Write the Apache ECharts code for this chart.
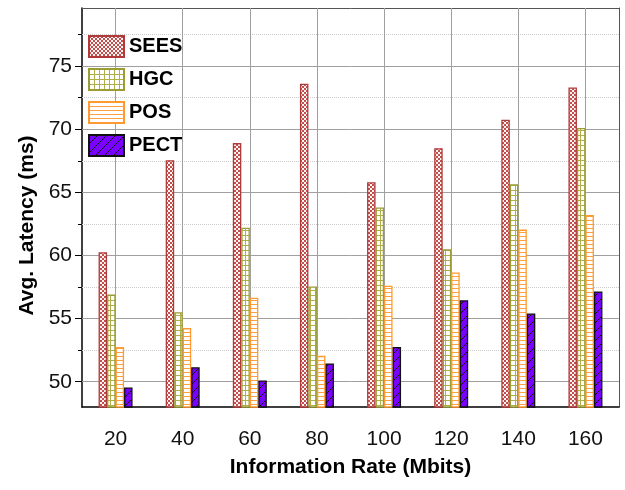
<!DOCTYPE html>
<html><head><meta charset="utf-8">
<script src="https://cdn.jsdelivr.net/npm/echarts@6/dist/echarts.min.js"></script>
<style>html,body{margin:0;padding:0;background:#fff}#c{width:625px;height:490px}</style>
</head><body><div id="c"></div>
<script>
var categories = ['20','40','60','80','100','120','140','160'];
var sees = [60.25, 67.55, 68.9, 73.6, 65.8, 68.5, 70.75, 73.3];
var hgc  = [56.9, 55.5, 62.2, 57.55, 63.8, 60.5, 65.65, 70.1];
var pos  = [52.75, 54.25, 56.65, 52.05, 57.6, 58.65, 62.05, 63.2];
var pect = [49.55, 51.15, 50.1, 51.45, 52.75, 56.45, 55.4, 57.15];
var yMajor = [50, 55, 60, 65, 70, 75];
var yMinor = [52.5, 57.5, 62.5, 67.5, 72.5, 77.5];
var yMin = 48, yMax = 79.6;

function pat(w, h, draw) {
  var c = document.createElement('canvas'); c.width = w; c.height = h;
  draw(c.getContext('2d'), w, h);
  return {image: c, repeat: 'repeat'};
}
var pSees = pat(4, 4, function (g) {
  g.fillStyle = '#fff4f4'; g.fillRect(0, 0, 4, 4);
  g.fillStyle = '#c0504d'; g.fillRect(0, 0, 2, 2); g.fillRect(2, 2, 2, 2);
});
var pHgc = pat(5, 5, function (g) {
  g.fillStyle = '#ffffff'; g.fillRect(0, 0, 5, 5);
  g.fillStyle = '#b0b04a'; g.fillRect(0, 0, 5, 1); g.fillRect(0, 0, 1, 5);
});
var pPos = pat(4, 4, function (g) {
  g.fillStyle = '#ffffff'; g.fillRect(0, 0, 4, 4);
  g.fillStyle = '#ffa040'; g.fillRect(0, 0, 4, 1);
});
var pPect = pat(9, 9, function (g) {
  g.fillStyle = '#7a00ff'; g.fillRect(0, 0, 9, 9);
  g.strokeStyle = '#111'; g.lineWidth = 1;
  g.beginPath(); g.moveTo(-1, 10); g.lineTo(10, -1); g.stroke();
});

var font = 'Liberation Sans, Arial, sans-serif';
function bar(name, data, color, border) {
  return {
    name: name, type: 'bar', data: data, barWidth: 8.5, barGap: '0%', z: 3,
    itemStyle: {color: color, borderColor: border, borderWidth: 1.3},
    animation: false
  };
}
var chart = echarts.init(document.getElementById('c'), null, {renderer: 'canvas'});
chart.setOption({
  backgroundColor: '#ffffff',
  animation: false,
  grid: {left: 82, right: 6, top: 8, bottom: 83},
  legend: {
    data: ['SEES', 'HGC', 'POS', 'PECT'], orient: 'vertical', left: 88, top: 35, padding: 0,
    itemWidth: 35, itemHeight: 21, itemGap: 10, icon: 'rect',
    textStyle: {fontFamily: font, fontWeight: 'bold', fontSize: 20, color: '#000'}
  },
  xAxis: [{
    type: 'category', data: categories,
    axisLine: {lineStyle: {color: '#000', width: 1.5}},
    axisTick: {alignWithLabel: true, inside: false, length: 6, lineStyle: {color: '#000'}},
    axisLabel: {fontFamily: font, fontSize: 21, color: '#111', margin: 22},
    splitLine: {show: false},
    name: 'Information Rate (Mbits)', nameLocation: 'middle', nameGap: 50,
    nameTextStyle: {fontFamily: font, fontSize: 21, fontWeight: 'bold', color: '#000'}
  }, {
    type: 'category', data: categories, position: 'top',
    axisLine: {show: true, lineStyle: {color: '#555', width: 1}},
    axisTick: {show: true, alignWithLabel: true, inside: true, length: 399, lineStyle: {color: '#a0a0a0', width: 1}},
    axisLabel: {show: false}, splitLine: {show: false}
  }],
  yAxis: [{
    type: 'value', min: yMin, max: yMax,
    axisLine: {show: true, lineStyle: {color: '#000', width: 1.5}},
    axisTick: {show: true, length: 7, customValues: yMajor, lineStyle: {color: '#000'}},
    axisLabel: {fontFamily: font, fontSize: 21, color: '#111', margin: 10, customValues: yMajor},
    splitLine: {show: false},
    name: 'Avg. Latency (ms)', nameLocation: 'middle', nameGap: 42,
    nameTextStyle: {fontFamily: font, fontSize: 21, fontWeight: 'bold', color: '#000', padding: [0, 36, 0, 0]}
  }, {
    type: 'value', min: yMin, max: yMax, position: 'left',
    axisLine: {show: false},
    axisTick: {show: true, length: 4, customValues: yMinor, lineStyle: {color: '#000'}},
    axisLabel: {show: false, customValues: yMinor},
    splitLine: {show: false}
  }, {
    type: 'value', min: yMin, max: yMax, position: 'right',
    axisLine: {show: true, lineStyle: {color: '#555', width: 1}},
    axisTick: {show: true, inside: true, length: 537, customValues: yMajor, lineStyle: {color: '#a0a0a0', width: 1}},
    axisLabel: {show: false}, splitLine: {show: false}
  }, {
    type: 'value', min: yMin, max: yMax, position: 'right',
    axisLine: {show: false},
    axisTick: {show: true, inside: true, length: 537, customValues: yMinor, lineStyle: {color: '#cccccc', width: 1, type: 'dotted'}},
    axisLabel: {show: false}, splitLine: {show: false}
  }],
  series: [
    bar('SEES', sees, pSees, '#b03a3a'),
    bar('HGC', hgc, pHgc, '#9c9c34'),
    bar('POS', pos, pPos, '#ff9a30'),
    bar('PECT', pect, pPect, '#111111')
  ]
});
</script></body></html>
